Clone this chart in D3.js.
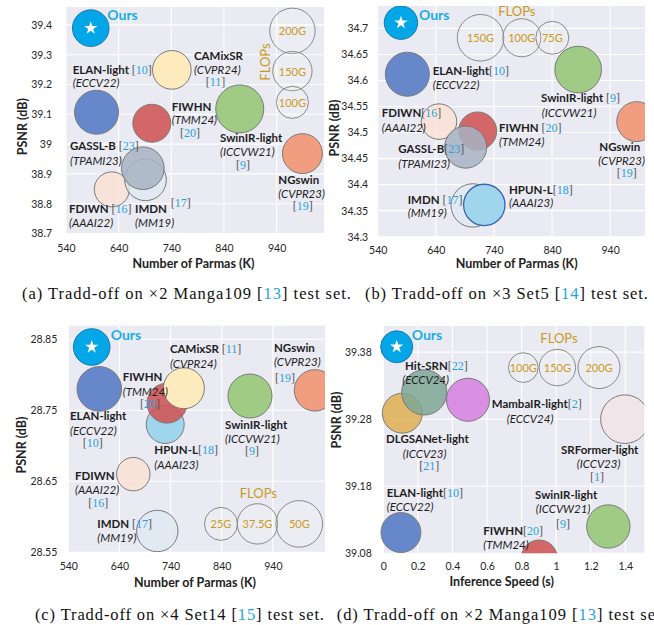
<!DOCTYPE html>
<html><head><meta charset="utf-8">
<script src="https://cdn.jsdelivr.net/npm/d3@7/dist/d3.min.js"></script>
<style>body{margin:0;background:#fff}svg{display:block}</style>
</head><body>
<svg id="c" width="654" height="625"></svg>
<script>
// ---------------- DATA ----------------
// (a) x2 Manga109
const aModels = ["ELAN-light","CAMixSR","FIWHN","SwinIR-light","NGswin","FDIWN","IMDN","GASSL-B","Ours"];
const aParams = [598, 741, 703, 870, 989, 627, 691, 686, 587];
const aPSNR   = [39.107, 39.249, 39.07, 39.118, 38.968, 38.848, 38.88, 38.919, 39.389];
const aFLOPs  = [188, 145, 140, 224, 155, 119, 168, 176, 130];
const aLegendFLOPs = [200, 150, 100];
const aLegendX = [970, 970, 970];
const aLegendY = [39.38, 39.245, 39.14];
const aXTicks = [540, 640, 740, 840, 940];
const aYTicks = [38.7, 38.8, 38.9, 39, 39.1, 39.2, 39.3, 39.4];

// (b) x3 Set5
const bModels = ["ELAN-light","SwinIR-light","FDIWN","FIWHN","GASSL-B","NGswin","IMDN","HPUN-L","Ours"];
const bParams = [591, 885, 645.5, 712, 691.4, 985.7, 703.5, 723.4, 580];
const bPSNR   = [34.612, 34.621, 34.521, 34.503, 34.472, 34.521, 34.36, 34.361, 34.711];
const bFLOPs  = [134, 150, 87, 100, 122, 110, 130, 118, 77];
const bLegendFLOPs = [150, 100, 75];
const bLegendX = [717, 788, 840.5];
const bLegendY = [34.682, 34.682, 34.682];
const bXTicks = [540, 640, 740, 840, 940];
const bYTicks = [34.3, 34.35, 34.4, 34.45, 34.5, 34.55, 34.6, 34.65, 34.7];

// (c) x4 Set14
const cModels = ["ELAN-light","HPUN-L","FIWHN","CAMixSR","SwinIR-light","NGswin","FDIWN","IMDN","Ours"];
const cParams = [600.6, 729.5, 733, 766, 895.3, 1022.4, 667.1, 714, 585.8];
const cPSNR   = [28.78, 28.73, 28.76, 28.781, 28.77, 28.778, 28.66, 28.58, 28.839];
const cFLOPs  = [45.8, 33.2, 36.8, 38.7, 44.6, 39.5, 25.7, 39.5, 30.8];
const cLegendFLOPs = [25, 37.5, 50];
const cLegendX = [838.6, 910, 991.7];
const cLegendY = [28.59, 28.59, 28.59];
const cXTicks = [540, 640, 740, 840, 940];
const cYTicks = [28.55, 28.65, 28.75, 28.85];

// (d) x2 Manga109, inference speed
const dModels = ["ELAN-light","SwinIR-light","FIWHN","DLGSANet-light","Hit-SRN","MambaIR-light","SRFormer-light","Ours"];
const dSpeed  = [0.102, 1.302, 0.902, 0.11, 0.237, 0.49, 1.398, 0.0775];
const dPSNR   = [39.111, 39.12, 39.073, 39.289, 39.32, 39.309, 39.28, 39.388];
const dFLOPs  = [181, 213, 147, 181, 232, 210, 268, 116];
const dLegendFLOPs = [100, 150, 200];
const dLegendX = [0.81, 1.007, 1.248];
const dLegendY = [39.357, 39.357, 39.357];
const dXTicks = [0, 0.2, 0.4, 0.6, 0.8, 1, 1.2, 1.4];
const dYTicks = [39.08, 39.18, 39.28, 39.38];

// ---------------- STYLE ----------------
const fillColor = {
  "Ours":"#03a7e7","ELAN-light":"#6688ca","CAMixSR":"#fdebbd","FIWHN":"#cf5454",
  "SwinIR-light":"#a0cb85","NGswin":"#f09d80","IMDN":"#dde8f2","GASSL-B":"#a7b3c3",
  "FDIWN":"#f9e2d5","HPUN-L":"#a0d5ee","Hit-SRN":"#7ea797","DLGSANet-light":"#e0b35a",
  "MambaIR-light":"#da90e2","SRFormer-light":"#f2e5ea"
};
const fillOpacity = {"IMDN":0.75,"GASSL-B":0.85,"FIWHN":0.88,"Hit-SRN":0.85,"FDIWN":0.85,"DLGSANet-light":0.9};
const SANS = "Lato, 'Open Sans', sans-serif";
const SERIF = "'Liberation Serif', 'Times New Roman', serif";
const CITE = "#1ea4e0";
const GOLD = "#c99a1c";

const svg = d3.select("#c");

function drawPanel(p) {
  const g = svg.append("g");
  const x = d3.scaleLinear().domain(p.xDomain).range([p.left, p.right]);
  const y = d3.scaleLinear().domain(p.yDomain).range([p.bottom, p.top]);
  const r = d3.scaleSqrt().domain([0, p.rRef]).range([0, p.rPx]);
  const clipId = "clip" + p.id;
  svg.append("clipPath").attr("id", clipId).append("rect")
    .attr("x", p.left - 30).attr("y", p.top).attr("width", p.right - p.left + 30).attr("height", p.bottom - p.top);

  g.append("rect").attr("x", p.left).attr("y", p.top).attr("width", p.right - p.left)
    .attr("height", p.bottom - p.top).attr("fill", "#eaeaf2");
  g.append("g").selectAll("line").data(p.xTicks).join("line")
    .attr("x1", d => x(d)).attr("x2", d => x(d)).attr("y1", p.top).attr("y2", p.bottom)
    .attr("stroke", "#fff").attr("stroke-width", 1.1);
  g.append("g").selectAll("line").data(p.yTicks).join("line")
    .attr("y1", d => y(d)).attr("y2", d => y(d)).attr("x1", p.left).attr("x2", p.right)
    .attr("stroke", "#fff").attr("stroke-width", 1.1);

  const fs = 10.5;
  const xa = g.append("g").attr("transform", `translate(0,${p.bottom})`)
    .call(d3.axisBottom(x).tickValues(p.xTicks).tickSize(0).tickPadding(p.xPad).tickFormat(d => String(d)));
  const ya = g.append("g").attr("transform", `translate(${p.left},0)`)
    .call(d3.axisLeft(y).tickValues(p.yTicks).tickSize(0).tickPadding(p.yPad).tickFormat(d => String(d)));
  [xa, ya].forEach(a => {
    a.select(".domain").remove();
    a.selectAll("text").attr("font-family", SANS).attr("font-size", fs).attr("fill", "#262626");
  });

  g.append("text").attr("x", p.xTitle[0]).attr("y", p.xTitle[1]).attr("text-anchor", "middle")
    .attr("font-family", SANS).attr("font-weight", 700).attr("font-size", 12.5).attr("fill", "#222")
    .text(p.xLabel);
  g.append("text").attr("transform", `translate(${p.yTitle[0]},${p.yTitle[1]}) rotate(-90)`)
    .attr("text-anchor", "middle").attr("dominant-baseline", "central")
    .attr("font-family", SANS).attr("font-weight", 700).attr("font-size", 12.5).attr("fill", "#222")
    .text("PSNR (dB)");

  const cg = g.append("g").attr("clip-path", `url(#${clipId})`);
  const leg = p.legF.map((f, i) => ({f, x: p.legX[i], y: p.legY[i]}));
  cg.selectAll("circle.leg").data(leg).join("circle").attr("class", "leg")
    .attr("cx", d => x(d.x)).attr("cy", d => y(d.y)).attr("r", d => r(d.f))
    .attr("fill", "rgba(255,255,255,0.12)").attr("stroke", "#8a8a8a").attr("stroke-width", 1);
  g.selectAll("text.leg").data(leg).join("text").attr("class", "leg")
    .attr("x", d => x(d.x)).attr("y", d => y(d.y)).attr("text-anchor", "middle")
    .attr("dominant-baseline", "central").attr("font-family", SANS).attr("font-size", 11)
    .attr("fill", GOLD).text(d => d.f + "G");

  const pts = p.models.map((m, i) => ({m, x: p.xs[i], y: p.ys[i], f: p.fl[i]}));
  cg.selectAll("circle.pt").data(pts).join("circle").attr("class", "pt")
    .attr("cx", d => x(d.x)).attr("cy", d => y(d.y)).attr("r", d => r(d.f))
    .attr("fill", d => fillColor[d.m]).attr("fill-opacity", d => fillOpacity[d.m] || 1)
    .attr("stroke", d => d.m === "Ours" ? "#1d76b0" : (p.id === "b" && d.m === "HPUN-L" ? "#3a62ae" : "#7a7a7a"))
    .attr("stroke-width", d => (p.id === "b" && d.m === "HPUN-L") ? 1.3 : 1);
  const ours = pts.find(d => d.m === "Ours");
  g.append("path").attr("d", d3.symbol(d3.symbolStar).size(55)())
    .attr("transform", `translate(${x(ours.x)},${y(ours.y)})`).attr("fill", "#fff");

  const ft = g.append("text").attr("font-family", SANS).attr("font-size", 13).attr("fill", GOLD)
    .attr("text-anchor", "middle").text("FLOPs");
  if (p.flopsRot) ft.attr("transform", `translate(${p.flopsPos[0]},${p.flopsPos[1]}) rotate(-90)`).attr("dominant-baseline", "central");
  else ft.attr("x", p.flopsPos[0]).attr("y", p.flopsPos[1]);

  p.labels.forEach(([t, lx, ly, kind]) => {
    const tx = g.append("text").attr("x", lx).attr("y", ly).attr("font-family", SANS)
      .attr("font-size", 11.5).attr("fill", "#1e1e1e");
    if (kind === "ours") {
      tx.attr("font-weight", 700).attr("font-size", 14).attr("fill", "#19aee6").text(t);
      return;
    }
    if (t.startsWith("(")) { tx.attr("font-style", "italic").text(t); return; }
    t.split(/(\[\d+\])/).filter(s => s.length).forEach(s => {
      const mm = s.match(/^\[(\d+)\]$/);
      if (mm) {
        tx.append("tspan").attr("font-family", SERIF).attr("font-size", 12).attr("fill", "#555").text("[");
        tx.append("tspan").attr("font-family", SERIF).attr("font-size", 12).attr("fill", CITE).text(mm[1]);
        tx.append("tspan").attr("font-family", SERIF).attr("font-size", 12).attr("fill", "#555").text("]");
      } else {
        tx.append("tspan").attr("font-weight", 700).text(s);
      }
    });
  });

  // caption, stretched to the measured width of the reference line
  const cap = svg.append("text").attr("x", p.cap[0]).attr("y", p.cap[1]).attr("font-family", SERIF)
    .attr("font-size", 16.5).attr("fill", "#111");
  p.capText.split(/(\[\d+\])/).filter(s => s.length).forEach(s => {
    const mm = s.match(/^\[(\d+)\]$/);
    if (mm) {
      cap.append("tspan").text("[");
      cap.append("tspan").attr("fill", CITE).text(mm[1]);
      cap.append("tspan").text("]");
    } else cap.append("tspan").text(s);
  });
  const w = cap.node().getComputedTextLength();
  const n = p.capText.length;
  cap.attr("letter-spacing", ((p.capWidth - w) / (n - 1)).toFixed(3));
}

drawPanel({
  id: "a", left: 66, right: 324, top: 7, bottom: 233.5,
  xDomain: [540, 1030], yDomain: [38.7, 39.46], rRef: 200, rPx: 22.7,
  xTicks: aXTicks, yTicks: aYTicks, xPad: 11, yPad: 14,
  models: aModels, xs: aParams, ys: aPSNR, fl: aFLOPs,
  legF: aLegendFLOPs, legX: aLegendX, legY: aLegendY,
  xLabel: "Number of Parmas (K)", xTitle: [193.5, 268.3], yTitle: [22.7, 126.7],
  flopsRot: true, flopsPos: [265, 62],
  labels: [
    ["Ours", 107.3, 20, "ours"],
    ["ELAN-light [10]", 72.7, 74], ["(ECCV22)", 72.7, 87.3],
    ["CAMixSR", 194, 60], ["(CVPR24)", 194, 74], ["[11]", 205.7, 85.5],
    ["FIWHN", 171.7, 111], ["(TMM24)", 171.7, 124.3], ["[20]", 180, 137],
    ["SwinIR-light", 220, 141.7], ["(ICCVW21)", 220, 156.2], ["[9]", 236, 168.8],
    ["NGswin", 278.3, 184.3], ["(CVPR23)", 278.3, 198], ["[19]", 292.7, 210],
    ["GASSL-B [23]", 70, 150], ["(TPAMI23)", 70, 165],
    ["FDIWN [16]", 69, 213.3], ["(AAAI22)", 69, 227.3],
    ["IMDN", 135, 213.3], ["(MM19)", 135, 227.3], ["[17]", 170.7, 206.7]
  ],
  cap: [22, 299], capWidth: 329, capText: "(a) Tradd-off on ×2 Manga109 [13] test set."
});

drawPanel({
  id: "b", left: 377.7, right: 645, top: 6, bottom: 236.7,
  xDomain: [540, 1000], yDomain: [34.3, 34.743], rRef: 150, rPx: 23.3,
  xTicks: bXTicks, yTicks: bYTicks, xPad: 10, yPad: 9.5,
  models: bModels, xs: bParams, ys: bPSNR, fl: bFLOPs,
  legF: bLegendFLOPs, legX: bLegendX, legY: bLegendY,
  xLabel: "Number of Parmas (K)", xTitle: [516.7, 268.3], yTitle: [334.3, 128],
  flopsRot: false, flopsPos: [516.8, 16],
  labels: [
    ["Ours", 419, 20, "ours"],
    ["ELAN-light[10]", 432.7, 75], ["(ECCV22)", 432.7, 89.3],
    ["SwinIR-light [9]", 541, 101.7], ["(ICCVW21)", 541.7, 116.7],
    ["FDIWN[16]", 381.7, 116.7], ["(AAAI22)", 381.7, 131.7],
    ["FIWHN [20]", 499, 131.7], ["(TMM24)", 499, 145.7],
    ["GASSL-B[23]", 398.3, 153.3], ["(TPAMI23)", 398.3, 168.3],
    ["NGswin", 599.3, 150.7], ["(CVPR23)", 598.3, 165.2], ["[19]", 616.7, 177.2],
    ["IMDN [17]", 407.7, 204], ["(MM19)", 407.7, 216.7],
    ["HPUN-L[18]", 509, 194.3], ["(AAAI23)", 509, 207.3]
  ],
  cap: [365, 299], capWidth: 283, capText: "(b) Tradd-off on ×3 Set5 [14] test set."
});

drawPanel({
  id: "c", left: 68.3, right: 325, top: 325.7, bottom: 552.3,
  xDomain: [540, 1042], yDomain: [28.55, 28.869], rRef: 50, rPx: 23.3,
  xTicks: cXTicks, yTicks: cYTicks, xPad: 10.5, yPad: 11,
  models: cModels, xs: cParams, ys: cPSNR, fl: cFLOPs,
  legF: cLegendFLOPs, legX: cLegendX, legY: cLegendY,
  xLabel: "Number of Parmas (K)", xTitle: [195, 586.7], yTitle: [21.7, 445],
  flopsRot: false, flopsPos: [258.3, 498.3],
  labels: [
    ["Ours", 110.7, 340, "ours"],
    ["CAMixSR [11]", 170, 353.3], ["(CVPR24)", 170, 368.3],
    ["NGswin", 274, 351.7], ["(CVPR23)", 274, 366], ["[19]", 275, 381.5],
    ["FIWHN", 122.7, 381], ["(TMM24)", 122.7, 396], ["[20]", 140, 408],
    ["ELAN-light", 70, 420], ["(ECCV22)", 70, 435], ["[10]", 82.7, 446.5],
    ["SwinIR-light", 225, 429], ["(ICCVW21)", 225, 443.3], ["[9]", 245, 455],
    ["HPUN-L[18]", 154.3, 454], ["(AAAI23)", 154.3, 469],
    ["FDIWN", 75, 480], ["(AAAI22)", 75, 494.3], ["[16]", 88.3, 507],
    ["IMDN [17]", 97.3, 527.7], ["(MM19)", 97.3, 542.3]
  ],
  cap: [35, 620], capWidth: 289, capText: "(c) Tradd-off on ×4 Set14 [15] test set."
});

drawPanel({
  id: "d", left: 383.3, right: 644.3, top: 326, bottom: 553.3,
  xDomain: [0, 1.51], yDomain: [39.08, 39.419], rRef: 200, rPx: 21,
  xTicks: dXTicks, yTicks: dYTicks, xPad: 9.5, yPad: 11.5,
  models: dModels, xs: dSpeed, ys: dPSNR, fl: dFLOPs,
  legF: dLegendFLOPs, legX: dLegendX, legY: dLegendY,
  xLabel: "Inference Speed (s)", xTitle: [501.7, 586], yTitle: [336.7, 420],
  flopsRot: false, flopsPos: [559, 343.3],
  labels: [
    ["Ours", 411.7, 340, "ours"],
    ["Hit-SRN[22]", 405, 370], ["(ECCV24)", 402.3, 384],
    ["MambaIR-light[2]", 491.7, 407.7], ["(ECCV24)", 506.7, 422.7],
    ["DLGSANet-light", 386, 443.3], ["(ICCV23)", 402.7, 458.3], ["[21]", 419.3, 469.8],
    ["SRFormer-light", 561, 454], ["(ICCV23)", 576.7, 468.3], ["[1]", 590, 481],
    ["ELAN-light[10]", 386.7, 496.7], ["(ECCV22)", 386.7, 511],
    ["SwinIR-light", 535, 499], ["(ICCVW21)", 535.7, 513.3], ["[9]", 556, 528],
    ["FIWHN[20]", 483.3, 535], ["(TMM24)", 483.3, 549.3]
  ],
  cap: [336.7, 620], capWidth: 329, capText: "(d) Tradd-off on ×2 Manga109 [13] test set."
});
</script>
</body></html>
